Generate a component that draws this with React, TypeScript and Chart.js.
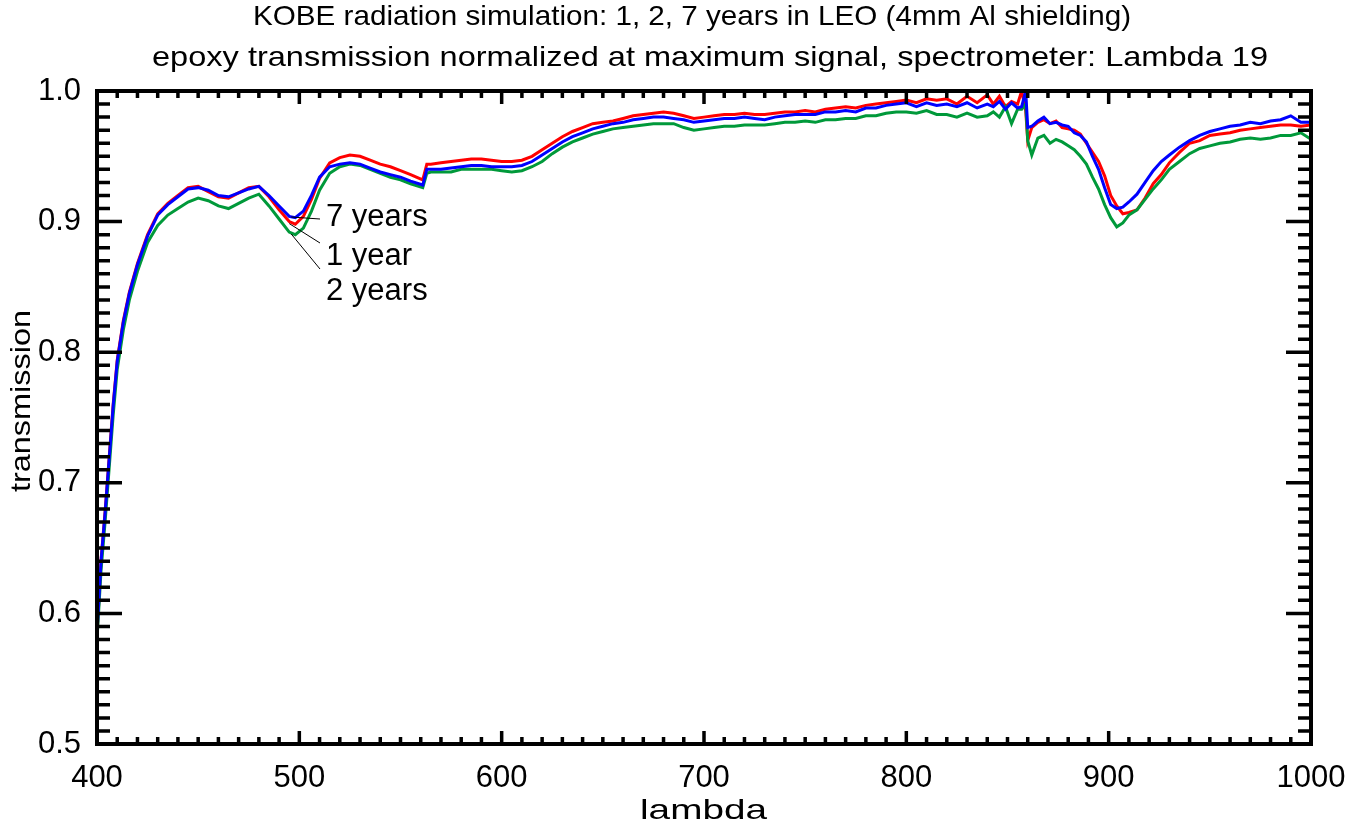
import React, { useEffect, useRef } from "react";
import { Chart, registerables } from "chart.js";

Chart.register(...registerables);

// wavelength (nm) shared by all three series
const lambda = [
  400, 402, 404, 406, 408, 410, 413, 416, 420, 425,
  430, 435, 440, 445, 450, 455, 460, 465, 470, 475,
  480, 485, 490, 495, 498, 502, 506, 510, 515, 520,
  525, 530, 535, 540, 545, 550, 555, 561, 563, 565,
  570, 575, 580, 585, 590, 595, 600, 605, 610, 615,
  620, 625, 630, 635, 640, 645, 650, 655, 660, 665,
  670, 675, 680, 685, 690, 695, 700, 705, 710, 715,
  720, 725, 730, 735, 740, 745, 750, 755, 760, 765,
  770, 775, 780, 785, 790, 795, 800, 805, 810, 815,
  820, 825, 830, 835, 840, 843, 846, 849, 852, 855,
  857, 859, 860, 862, 865, 868, 871, 874, 877, 880,
  883, 886, 889, 892, 895, 898, 901, 904, 907, 910,
  914, 918, 922, 926, 930, 935, 940, 945, 950, 955,
  960, 965, 970, 975, 980, 985, 990, 995, 1000,
];

// 1 year (red)
const year1 = [
  0.583, 0.641, 0.678, 0.719, 0.760, 0.794, 0.824, 0.846, 0.868, 0.890,
  0.906, 0.914, 0.920, 0.926, 0.927, 0.923, 0.919, 0.918, 0.922, 0.926,
  0.927, 0.919, 0.909, 0.900, 0.898, 0.904, 0.917, 0.933, 0.945, 0.949,
  0.951, 0.950, 0.947, 0.944, 0.942, 0.939, 0.936, 0.932, 0.944, 0.944,
  0.945, 0.946, 0.947, 0.948, 0.948, 0.947, 0.946, 0.946, 0.947, 0.950,
  0.955, 0.960, 0.965, 0.969, 0.972, 0.975, 0.976, 0.977, 0.979, 0.981,
  0.982, 0.983, 0.984, 0.983, 0.981, 0.979, 0.980, 0.981, 0.982, 0.982,
  0.983, 0.982, 0.982, 0.983, 0.984, 0.984, 0.985, 0.984, 0.986, 0.987,
  0.988, 0.987, 0.989, 0.990, 0.991, 0.992, 0.993, 0.991, 0.994, 0.993,
  0.994, 0.990, 0.996, 0.991, 0.997, 0.990, 0.996, 0.988, 0.992, 0.990,
  1.000, 0.985, 0.962, 0.972, 0.976, 0.978, 0.975, 0.977, 0.972, 0.971,
  0.970, 0.967, 0.960, 0.953, 0.946, 0.935, 0.920, 0.912, 0.906, 0.907,
  0.909, 0.918, 0.929, 0.936, 0.945, 0.953, 0.960, 0.962, 0.966, 0.967,
  0.968, 0.970, 0.971, 0.972, 0.973, 0.974, 0.974, 0.973, 0.974,
];

// 2 years (green)
const year2 = [
  0.580, 0.633, 0.670, 0.711, 0.752, 0.787, 0.817, 0.840, 0.862, 0.884,
  0.897, 0.905, 0.910, 0.915, 0.918, 0.916, 0.912, 0.910, 0.914, 0.918,
  0.921, 0.912, 0.902, 0.892, 0.890, 0.895, 0.908, 0.924, 0.937, 0.942,
  0.944, 0.943, 0.940, 0.937, 0.934, 0.932, 0.929, 0.926, 0.937, 0.938,
  0.938, 0.938, 0.940, 0.940, 0.940, 0.940, 0.939, 0.938, 0.939, 0.942,
  0.946, 0.952, 0.957, 0.961, 0.964, 0.967, 0.969, 0.971, 0.972, 0.973,
  0.974, 0.975, 0.975, 0.975, 0.972, 0.970, 0.971, 0.972, 0.973, 0.973,
  0.974, 0.974, 0.974, 0.975, 0.976, 0.976, 0.977, 0.976, 0.978, 0.978,
  0.979, 0.979, 0.981, 0.981, 0.983, 0.984, 0.984, 0.983, 0.985, 0.982,
  0.982, 0.980, 0.983, 0.980, 0.981, 0.984, 0.980, 0.988, 0.975, 0.986,
  0.986, 0.990, 0.962, 0.951, 0.964, 0.966, 0.960, 0.963, 0.961, 0.958,
  0.955, 0.950, 0.944, 0.934, 0.925, 0.913, 0.903, 0.896, 0.899, 0.905,
  0.909, 0.917, 0.925, 0.932, 0.940, 0.946, 0.952, 0.956, 0.958, 0.960,
  0.961, 0.963, 0.964, 0.963, 0.964, 0.966, 0.966, 0.968, 0.963,
];

// 7 years (blue)
const year7 = [
  0.585, 0.640, 0.677, 0.718, 0.759, 0.793, 0.823, 0.845, 0.867, 0.889,
  0.905, 0.913, 0.919, 0.925, 0.926, 0.924, 0.920, 0.919, 0.922, 0.925,
  0.927, 0.920, 0.912, 0.904, 0.903, 0.908, 0.920, 0.934, 0.942, 0.944,
  0.945, 0.944, 0.941, 0.938, 0.936, 0.934, 0.931, 0.928, 0.940, 0.940,
  0.940, 0.941, 0.942, 0.943, 0.943, 0.942, 0.942, 0.942, 0.943, 0.946,
  0.951, 0.956, 0.961, 0.965, 0.968, 0.971, 0.973, 0.975, 0.976, 0.978,
  0.979, 0.980, 0.980, 0.979, 0.978, 0.976, 0.977, 0.978, 0.979, 0.979,
  0.980, 0.979, 0.978, 0.980, 0.981, 0.982, 0.982, 0.982, 0.984, 0.984,
  0.985, 0.984, 0.987, 0.987, 0.989, 0.990, 0.991, 0.988, 0.991, 0.989,
  0.990, 0.988, 0.991, 0.987, 0.990, 0.988, 0.992, 0.986, 0.991, 0.987,
  0.988, 1.000, 0.972, 0.973, 0.977, 0.980, 0.975, 0.976, 0.974, 0.973,
  0.968, 0.966, 0.961, 0.950, 0.940, 0.926, 0.913, 0.910, 0.911, 0.915,
  0.921, 0.930, 0.939, 0.946, 0.951, 0.957, 0.962, 0.966, 0.969, 0.971,
  0.973, 0.974, 0.976, 0.975, 0.977, 0.978, 0.981, 0.976, 0.976,
];

const titleLines = [
  "KOBE radiation simulation: 1, 2, 7 years in LEO (4mm Al shielding)",
  "epoxy transmission normalized at maximum signal, spectrometer: Lambda 19",
];
const xTitle = "lambda";
const yTitle = "transmission";

// annotation labels: data point the leader starts at, leader end, label anchor
const annotations = [
  { text: "7 years", at: [496, 0.9035], end: [320, 219], label: [326, 217] },
  { text: "1 year", at: [495, 0.8985], end: [320, 243], label: [326, 256] },
  { text: "2 years", at: [496, 0.8905], end: [320, 269], label: [326, 291] },
];

const FONT = "'Liberation Sans', Arial, sans-serif";

function fitText(ctx: CanvasRenderingContext2D, text: string, left: number, cy: number, width: number) {
  const w = ctx.measureText(text).width;
  ctx.save();
  ctx.translate(left, cy);
  ctx.scale(width / w, 1);
  ctx.textAlign = "left";
  ctx.textBaseline = "middle";
  ctx.fillText(text, 0, 0);
  ctx.restore();
}

const framePlugin = {
  id: "frame",
  afterDraw(chart: any) {
    const { ctx, chartArea: a, scales } = chart;
    const xs = scales.x;
    const ys = scales.y;
    ctx.save();
    ctx.strokeStyle = "#000";
    ctx.lineCap = "butt";
    // ticks
    ctx.lineWidth = 3.5;
    for (let v = 400; v <= 1000; v += 10) {
      const px = xs.getPixelForValue(v);
      const major = v % 100 === 0;
      const len = major ? 13 : 7;
      ctx.beginPath();
      ctx.moveTo(px, a.bottom);
      ctx.lineTo(px, a.bottom - len);
      ctx.moveTo(px, a.top);
      ctx.lineTo(px, a.top + len);
      ctx.stroke();
    }
    for (let i = 50; i <= 100; i += 1) {
      const v = i / 100;
      const py = ys.getPixelForValue(v);
      const major = i % 10 === 0;
      const len = major ? 25 : 13;
      ctx.beginPath();
      ctx.moveTo(a.left, py);
      ctx.lineTo(a.left + len, py);
      ctx.moveTo(a.right, py);
      ctx.lineTo(a.right - len, py);
      ctx.stroke();
    }
    // frame
    ctx.lineWidth = 4;
    ctx.strokeRect(a.left, a.top, a.right - a.left, a.bottom - a.top);

    // annotations
    ctx.fillStyle = "#000";
    ctx.lineWidth = 1;
    ctx.font = `31px ${FONT}`;
    ctx.textBaseline = "middle";
    ctx.textAlign = "left";
    for (const an of annotations) {
      const px = xs.getPixelForValue(an.at[0]);
      const py = ys.getPixelForValue(an.at[1]);
      ctx.beginPath();
      ctx.moveTo(px, py);
      ctx.lineTo(an.end[0], an.end[1]);
      ctx.stroke();
      ctx.fillText(an.text, an.label[0], an.label[1]);
    }

    // titles
    ctx.font = `28px ${FONT}`;
    fitText(ctx, titleLines[0], 253, 17, 878);
    fitText(ctx, titleLines[1], 152, 58, 1116);
    fitText(ctx, xTitle, 640, 811, 127);
    ctx.save();
    ctx.translate(22, 401);
    ctx.rotate(-Math.PI / 2);
    fitText(ctx, yTitle, -91, 0, 182);
    ctx.restore();
    ctx.restore();
  },
};

export default function App() {
  const ref = useRef<HTMLCanvasElement | null>(null);
  useEffect(() => {
    document.body.style.margin = "0";
    const toPts = (ys: number[]) => lambda.map((x, i) => ({ x, y: ys[i] }));
    const chart = new Chart(ref.current!, {
      type: "line",
      data: {
        datasets: [
          { label: "1 year", data: toPts(year1), borderColor: "#ff0000" },
          { label: "2 years", data: toPts(year2), borderColor: "#00993a" },
          { label: "7 years", data: toPts(year7), borderColor: "#0000ff" },
        ].map((d, i) => ({
          ...d,
          borderWidth: 3,
          pointRadius: 0,
          tension: 0,
          fill: false,
          order: 3 - i,
        })),
      },
      options: {
        animation: false,
        responsive: false,
        maintainAspectRatio: false,
        layout: { padding: { top: 91, right: 47, left: 0, bottom: 0 } },
        plugins: { legend: { display: false }, tooltip: { enabled: false }, title: { display: false } },
        scales: {
          x: {
            type: "linear",
            min: 400,
            max: 1000,
            grid: { display: false },
            border: { display: false },
            ticks: {
              stepSize: 100,
              color: "#000",
              padding: 8,
              maxRotation: 0,
              font: { family: FONT, size: 31 },
              callback: (v: any) => String(v),
            },
            afterFit: (s: any) => {
              s.height = 85;
            },
          },
          y: {
            min: 0.5,
            max: 1.0,
            grid: { display: false },
            border: { display: false },
            ticks: {
              stepSize: 0.1,
              color: "#000",
              padding: 8,
              font: { family: FONT, size: 31 },
              callback: (v: any) => Number(v).toFixed(1),
            },
            afterFit: (s: any) => {
              s.width = 97;
            },
          },
        },
      },
      plugins: [framePlugin],
    });
    return () => chart.destroy();
  }, []);
  return (
    <div style={{ position: "absolute", left: 0, top: 0, width: 1358, height: 829, background: "#fff" }}>
      <canvas ref={ref} width={1358} height={829} style={{ width: 1358, height: 829 }} />
    </div>
  );
}
